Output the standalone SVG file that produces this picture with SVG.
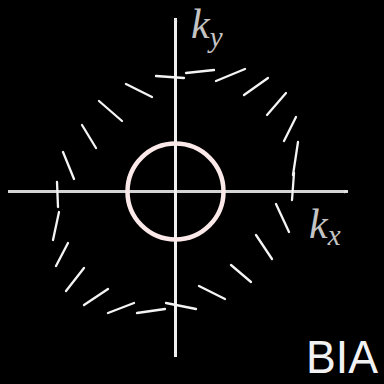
<svg xmlns="http://www.w3.org/2000/svg" width="384" height="384" viewBox="0 0 384 384">
<defs>
<marker id="ah" viewBox="0 0 10 10" refX="9" refY="5" markerWidth="5" markerHeight="4" orient="auto" markerUnits="userSpaceOnUse">
<path d="M0,0 L10,5 L0,10 z" fill="#e6e6e6"/>
</marker>
<style>
.axis{stroke:#d4d4d4;stroke-width:3;fill:none}
.vaxis{stroke:#f0f0f0;stroke-width:3;fill:none}
.d{stroke:#f4f4f4;stroke-width:2.3;stroke-linecap:round}
.lab{font-family:"Liberation Serif","DejaVu Serif",serif;font-style:italic;fill:#c4c4c4}
</style>
</defs>
<rect width="384" height="384" fill="#000"/>
<g id="axes">
<line class="axis" x1="8" y1="191.5" x2="348" y2="191.5" marker-end="url(#ah)"/>
<line class="vaxis" x1="175.5" y1="357" x2="175.5" y2="18" marker-end="url(#ah)"/>
</g>
<g id="fermi-circle">
<circle cx="175.5" cy="191.5" r="48" fill="none" stroke="#fbe9e9" stroke-width="4.5"/>
</g>
<g id="spin-texture">
<line class="d" x1="156" y1="76" x2="184" y2="78"/>
<line class="d" x1="186" y1="73" x2="214" y2="70"/>
<line class="d" x1="216" y1="81" x2="245" y2="69"/>
<line class="d" x1="244" y1="95" x2="268" y2="78"/>
<line class="d" x1="267" y1="115" x2="286" y2="93"/>
<line class="d" x1="284" y1="141" x2="296" y2="117"/>
<line class="d" x1="293" y1="175" x2="298" y2="142"/>
<line class="d" x1="292" y1="200" x2="294" y2="173"/>
<line class="d" x1="276" y1="204" x2="289" y2="232"/>
<line class="d" x1="256" y1="235" x2="272" y2="259"/>
<line class="d" x1="231" y1="265" x2="251" y2="282"/>
<line class="d" x1="199" y1="286" x2="225" y2="299"/>
<line class="d" x1="166" y1="303" x2="196" y2="309"/>
<line class="d" x1="137" y1="313" x2="165" y2="309"/>
<line class="d" x1="108" y1="313" x2="134" y2="303"/>
<line class="d" x1="84" y1="305" x2="108" y2="289"/>
<line class="d" x1="66" y1="291" x2="84" y2="268"/>
<line class="d" x1="56" y1="266" x2="68" y2="243"/>
<line class="d" x1="53" y1="240" x2="59" y2="212"/>
<line class="d" x1="58" y1="207" x2="57" y2="182"/>
<line class="d" x1="63" y1="152" x2="74" y2="179"/>
<line class="d" x1="82" y1="125" x2="96" y2="148"/>
<line class="d" x1="99" y1="101" x2="122" y2="121"/>
<line class="d" x1="126" y1="84" x2="152" y2="97"/>
</g>
<g id="labels">
<text class="lab" x="191" y="38" font-size="42">k<tspan font-size="29" dy="9">y</tspan></text>
<text class="lab" x="309" y="238" font-size="42">k<tspan font-size="29" dy="7">x</tspan></text>
<text x="306" y="373" font-family="Liberation Sans, Arial, sans-serif" font-size="47" fill="#f2f2f2" textLength="72" lengthAdjust="spacingAndGlyphs">BIA</text>
</g>
</svg>
